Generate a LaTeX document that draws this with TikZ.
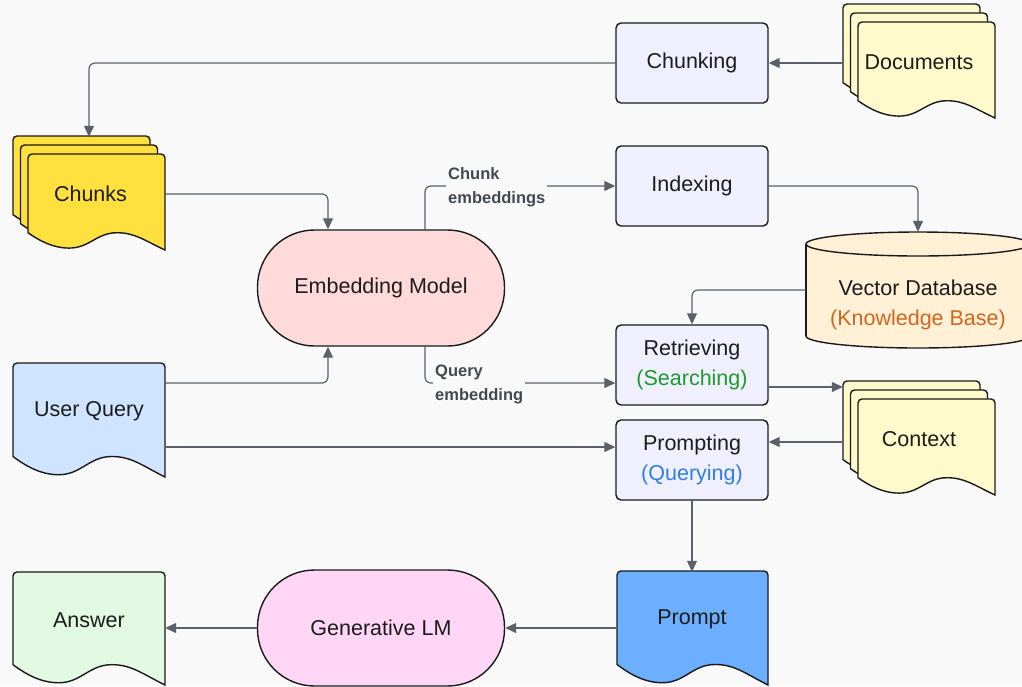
\documentclass[tikz,border=0pt]{standalone}
\usepackage{fontspec}
\setmainfont{Liberation Sans}
\usetikzlibrary{arrows.meta,positioning,calc}

\definecolor{bgc}{HTML}{F9F9F9}
\definecolor{outc}{HTML}{1A1A1A}
\definecolor{arrc}{HTML}{5A616B}
\definecolor{txtc}{HTML}{1C1C1C}
\definecolor{stepc}{HTML}{EFEFFD}
\definecolor{docc}{HTML}{FFFACB}
\definecolor{chunkc}{HTML}{FFE03F}
\definecolor{embc}{HTML}{FFDADA}
\definecolor{dbc}{HTML}{FFF0D6}
\definecolor{queryc}{HTML}{CFE4FF}
\definecolor{promptc}{HTML}{6CAFFF}
\definecolor{answerc}{HTML}{E2FAE2}
\definecolor{genc}{HTML}{FFD6F5}
\definecolor{searchc}{HTML}{1E9A2C}
\definecolor{queryingc}{HTML}{2F7FE6}
\definecolor{kbc}{HTML}{D2661E}

% one sheet: left, top, width, height, fill
\newcommand\docsheet[5]{%
  \begin{scope}[shift={(#1,#2)}]
    \draw[line width=1.4pt,draw=outc,fill=#5] (0,{.82*#4}) [rounded corners=4pt] -- (0,0) -- (#3,0) [sharp corners] -- (#3,#4)
      .. controls ({.85*#3},{.9*#4}) and ({.78*#3},{.82*#4}) .. ({.65*#3},{.82*#4})
      .. controls ({.5*#3},{.82*#4}) and ({.45*#3},{.98*#4}) .. ({.3*#3},{.98*#4})
      .. controls ({.18*#3},{.98*#4}) and ({.08*#3},{.9*#4}) .. (0,{.82*#4}) -- cycle;
  \end{scope}}
% three sheets: left, top of the back one, fill
\newcommand\docstack[3]{%
  \foreach \k in {0,1,2}{\docsheet{#1+7.5*\k}{#2+9*\k}{137}{96}{#3}}}

\begin{document}
\begin{tikzpicture}[x=1pt,y=-1pt,
    txt/.style={font=\fontsize{21.5}{30}\selectfont,text=txtc,align=center},
    stepbox/.style={txt,draw=outc,line width=1.4pt,fill=stepc,rounded corners=5pt,minimum width=152pt,minimum height=80pt},
    pill/.style={txt,draw=outc,line width=1.4pt,rounded corners=57pt,minimum width=247pt,minimum height=116pt},
    docnode/.style={txt,minimum width=152pt,minimum height=94pt},
    stacknode/.style={txt,minimum width=152pt,minimum height=114pt},
    conn/.style={draw=arrc,line width=1.2pt,rounded corners=6pt,-{Triangle[length=11pt,width=10pt]}},
    elabel/.style={font=\bfseries\fontsize{16.5}{24}\selectfont,text=arrc!75!black,fill=bgc,align=left,inner sep=2pt}]

\fill[bgc] (0,0) rectangle (1022,686);
\useasboundingbox (0,0) rectangle (1022,686);

% sheets and the cylinder
\docstack{843}{4}{docc}
\docstack{13}{136}{chunkc}
\docstack{843}{381}{docc}
\docsheet{13}{363}{152}{114}{queryc}
\docsheet{617}{571}{151}{114}{promptc}
\docsheet{13}{572}{152}{113}{answerc}

\draw[line width=1.4pt,draw=outc,fill=dbc] (918,336) ellipse [x radius=112,y radius=12];
\fill[dbc] (806,244) rectangle (1030,336);
\draw[line width=1.4pt,draw=outc] (806,244) -- (806,336) (1030,244) -- (1030,336);
\draw[line width=1.4pt,draw=outc,fill=dbc] (918,244) ellipse [x radius=112,y radius=12];

% nodes
\node[stacknode] (docs) at (919,62) {Documents};
\node[stacknode] (chunks) at (89,194) {\hspace{3pt}Chunks};
\node[stacknode] (context) at (919,439) {Context};
\node[docnode] (uq) at (89,411) {User Query};
\node[docnode] (prompt) at (692,619) {Prompt};
\node[docnode] (answer) at (89,620) {Answer};

\node[stepbox] (chunking) at (692,63) {Chunking};
\node[stepbox] (indexing) at (692,186) {Indexing};
\node[stepbox] (retrieving) at (692,365) {Retrieving\\\textcolor{searchc}{(Searching)}};
\node[stepbox] (prompting) at (692,460) {Prompting\\\textcolor{queryingc}{(Querying)}};

\node[pill,fill=embc] (embed) at (381,288) {Embedding Model};
\node[pill,fill=genc] (genlm) at (381,628) {Generative LM};

\node[minimum width=224pt,minimum height=116pt] (vdb) at (918,290) {};
\node[txt] (vdbtext) at (918,305) {Vector Database\\\textcolor{kbc}{(Knowledge Base)}};

% connectors
\draw[conn] (docs.west |- chunking.east) -- (chunking.east);
\draw[conn] (chunking.west) -| (chunks.north);
\draw[conn] (chunks.east) -| ([xshift=-53pt]embed.north);
\draw[conn] ([xshift=44pt]embed.north) |- (indexing.west);
\node[elabel,anchor=west] (chunkemb) at (446,187) {Chunk\\embeddings};
\draw[conn] (indexing.east) -| (vdb.north);
\draw[conn] (vdb.west) -| (retrieving.north);
\draw[conn] ([xshift=44pt]embed.south) |- ([yshift=-18pt]retrieving.west);
\node[elabel,anchor=west] (queryemb) at (433,384) {Query\\embedding};
\draw[conn] ([yshift=-22pt]retrieving.east) -- ([yshift=-22pt]retrieving.east -| context.west);
\draw[conn] (context.west |- 0,442) -- (prompting.east |- 0,442);
\draw[conn] ([yshift=28pt]uq.east) -| ([xshift=-53pt]embed.south);
\draw[conn] ([yshift=-36pt]uq.east) -- ([yshift=-36pt]uq.east -| prompting.west);
\draw[conn] (prompting.south) -- (prompt.north);
\draw[conn] (prompt.west |- genlm.east) -- (genlm.east);
\draw[conn] (genlm.west) -- (genlm.west -| answer.east);
\end{tikzpicture}
\end{document}
